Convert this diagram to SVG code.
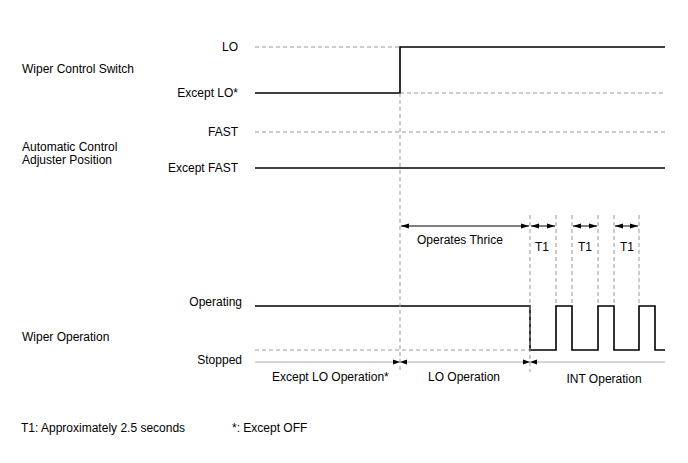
<svg xmlns="http://www.w3.org/2000/svg" width="688" height="463" viewBox="0 0 688 463">
<style>
text{font-family:"Liberation Sans",Arial,sans-serif;font-size:12px;fill:#000}
.r{text-anchor:end}
.m{text-anchor:middle}
.sig{fill:none;stroke:#000;stroke-width:1.6}
.dash{fill:none;stroke:#999;stroke-width:1;stroke-dasharray:4 3}
.dim{fill:none;stroke:#000;stroke-width:1;marker-start:url(#a);marker-end:url(#a)}
.gdim{fill:none;stroke:#aaa;stroke-width:1.2}
</style>
<defs>
<marker id="a" viewBox="0 0 8 6" refX="8" refY="3" markerWidth="8" markerHeight="6" markerUnits="userSpaceOnUse" orient="auto-start-reverse">
<path d="M0,0.5 L8,3 L0,5.5 Z" fill="#000"/>
</marker>
</defs>
<rect width="688" height="463" fill="#fff"/>
<g id="labels">
<text x="22" y="73">Wiper Control Switch</text>
<text x="22" y="151">Automatic Control</text>
<text x="22" y="164">Adjuster Position</text>
<text x="22" y="341">Wiper Operation</text>
<text class="r" x="238" y="51">LO</text>
<text class="r" x="238" y="97">Except LO*</text>
<text class="r" x="238" y="136">FAST</text>
<text class="r" x="238" y="172">Except FAST</text>
<text class="r" x="242" y="306">Operating</text>
<text class="r" x="242" y="364">Stopped</text>
<text x="21" y="432">T1: Approximately 2.5 seconds</text>
<text x="232" y="432">*: Except OFF</text>
</g>
<g id="switch">
<path class="dash" d="M255,47 H400"/>
<path class="dash" d="M400,93 H665"/>
<path class="sig" d="M255,93 H400 V47 H665"/>
</g>
<g id="adjuster">
<path class="dash" d="M255,132 H665"/>
<path class="sig" d="M255,168 H665"/>
</g>
<g id="wiper">
<path class="dash" d="M255,350 H530"/>
<path class="sig" d="M255,306 H530 V350 H556 V306 H572 V350 H598 V306 H614 V350 H639 V306 H655 V350 H665"/>
</g>
<g id="connectors">
<path class="dash" d="M400,93 V372"/>
<path class="dash" d="M530,215 V372"/>
<path class="dash" d="M556,215 V306 M572,215 V306 M598,215 V306 M614,215 V306 M639,215 V306"/>
<path class="dim" d="M401,226 H529"/>
<path class="dim" d="M531,226 H555"/>
<path class="dim" d="M573,226 H597"/>
<path class="dim" d="M615,226 H638"/>
<path class="gdim" d="M255,362 H665"/>
<path d="M393,359.5 L400,362 L393,364.5 Z M407,359.5 L400,362 L407,364.5 Z M523,359.5 L530,362 L523,364.5 Z M537,359.5 L530,362 L537,364.5 Z" fill="#000"/>
</g>
<g id="dim-labels">
<text x="417" y="244">Operates Thrice</text>
<text class="m" x="542" y="251">T1</text>
<text class="m" x="585" y="251">T1</text>
<text class="m" x="627" y="251">T1</text>
<text x="272" y="381">Except LO Operation*</text>
<text class="m" x="464" y="381">LO Operation</text>
<text class="m" x="604" y="383">INT Operation</text>
</g>
</svg>
